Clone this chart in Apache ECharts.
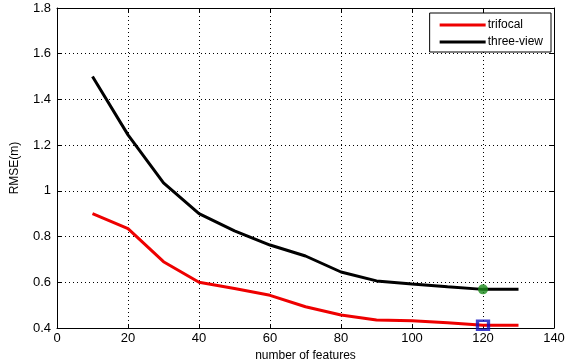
<!DOCTYPE html>
<html>
<head>
<meta charset="utf-8">
<script src="https://cdn.jsdelivr.net/npm/echarts@6/dist/echarts.min.js"></script>
<style>
  html, body { margin: 0; padding: 0; background: #fff; }
  #chart { width: 570px; height: 360px; }
</style>
</head>
<body>
<div id="chart"></div>
<script>
const features = [10, 20, 30, 40, 50, 60, 70, 80, 90, 100, 110, 120, 130]
const trifocal = [0.90, 0.835, 0.69, 0.60, 0.573, 0.543, 0.493, 0.457, 0.435, 0.432, 0.423, 0.412, 0.412]
const threeView = [1.50, 1.245, 1.035, 0.90, 0.825, 0.763, 0.715, 0.645, 0.606, 0.592, 0.58, 0.569, 0.569]
const markIndex = 11 // highlighted point at 120 features

const xTicks = [0, 20, 40, 60, 80, 100, 120, 140]
const yTicks = [0.4, 0.6, 0.8, 1, 1.2, 1.4, 1.6, 1.8]

const font = 'Liberation Sans, Arial, sans-serif'

const chart = echarts.init(document.getElementById('chart'))

const axisCommon = {
  type: 'value',
  axisLine: { show: true, onZero: false, lineStyle: { color: '#000', width: 1 } },
  axisTick: { show: true, inside: true, length: 4, lineStyle: { color: '#000' } },
  axisLabel: { color: '#000', fontFamily: font, fontSize: 13 },
  splitLine: { show: true, lineStyle: { color: '#000', type: [1, 3], width: 1 } }
}

chart.setOption({
  animation: false,
  backgroundColor: '#fff',
  grid: { left: 57, right: 16, top: 8, bottom: 32, outerBoundsMode: 'none' },
  legend: {
    orient: 'vertical',
    right: 19,
    top: 13,
    padding: [6, 8, 4, 10],
    itemGap: 5,
    itemWidth: 46,
    itemHeight: 3,
    icon: 'rect',
    backgroundColor: '#fff',
    borderColor: '#000',
    borderWidth: 1,
    borderRadius: 0,
    textStyle: { color: '#000', fontFamily: font, fontSize: 12, padding: [0, 0, 0, -3] },
    data: ['trifocal', 'three-view']
  },
  xAxis: [
    {
      ...axisCommon,
      min: xTicks[0],
      max: xTicks[xTicks.length - 1],
      interval: 20,
      name: 'number of features',
      nameLocation: 'middle',
      nameGap: 20,
      nameTextStyle: { color: '#000', fontFamily: font, fontSize: 12 },
      axisLabel: { ...axisCommon.axisLabel, margin: 4 }
    },
    {
      ...axisCommon,
      position: 'top',
      min: xTicks[0],
      max: xTicks[xTicks.length - 1],
      interval: 20,
      axisLabel: { show: false },
      splitLine: { show: false }
    }
  ],
  yAxis: [
    {
      ...axisCommon,
      min: yTicks[0],
      max: yTicks[yTicks.length - 1],
      interval: 0.2,
      name: 'RMSE(m)',
      nameLocation: 'middle',
      nameGap: 36,
      nameTextStyle: { color: '#000', fontFamily: font, fontSize: 12 },
      axisLabel: { ...axisCommon.axisLabel, margin: 6, formatter: v => String(+v.toFixed(1)) }
    },
    {
      ...axisCommon,
      position: 'right',
      min: yTicks[0],
      max: yTicks[yTicks.length - 1],
      interval: 0.2,
      axisLabel: { show: false },
      splitLine: { show: false }
    }
  ],
  series: [
    {
      name: 'trifocal',
      type: 'line',
      data: features.map((x, i) => [x, trifocal[i]]),
      showSymbol: false,
      symbol: 'none',
      itemStyle: { color: '#ee0000' },
      lineStyle: { color: '#ee0000', width: 3 }
    },
    {
      name: 'three-view',
      type: 'line',
      data: features.map((x, i) => [x, threeView[i]]),
      showSymbol: false,
      symbol: 'none',
      itemStyle: { color: '#000' },
      lineStyle: { color: '#000', width: 3 }
    },
    {
      name: 'mark-trifocal',
      type: 'scatter',
      data: [[features[markIndex], trifocal[markIndex]]],
      symbol: 'rect',
      symbolSize: [11, 9],
      itemStyle: { color: 'rgba(0,0,0,0)', borderColor: '#1010c0', borderWidth: 3 },
      z: 5
    },
    {
      name: 'mark-three-view',
      type: 'scatter',
      data: [[features[markIndex], threeView[markIndex]]],
      symbol: 'circle',
      symbolSize: 10,
      itemStyle: { color: '#1a8a1a' },
      z: 5
    }
  ]
})
</script>
</body>
</html>
